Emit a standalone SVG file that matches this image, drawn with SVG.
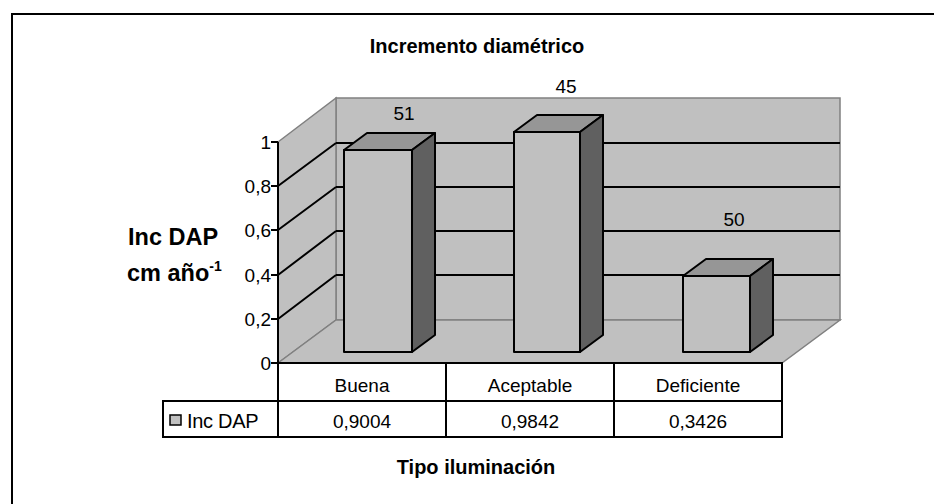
<svg xmlns="http://www.w3.org/2000/svg" width="934" height="504" viewBox="0 0 934 504">
<style>
text{font-family:"Liberation Sans",Arial,sans-serif;fill:#000}
.b{font-weight:bold;font-size:20px}
.yt{font-weight:bold;font-size:23.5px}
.t{font-size:19px}
.wall{fill:#c0c0c0;stroke:#808080;stroke-width:1.5}
.grid{stroke:#000;stroke-width:2;fill:none}
.front{fill:#c0c0c0;stroke:#000;stroke-width:2;stroke-linejoin:round}
.top{fill:#969696;stroke:#000;stroke-width:2;stroke-linejoin:round}
.side{fill:#606060;stroke:#000;stroke-width:2;stroke-linejoin:round}
.tbl{stroke:#000;stroke-width:2;fill:none}
</style>
<rect width="934" height="504" fill="#fff"/>
<path d="M12,504 V14 H934" fill="none" stroke="#000" stroke-width="2"/>
<text class="b" x="477" y="53" text-anchor="middle">Incremento diamétrico</text>
<g id="walls">
<polygon class="wall" points="336,98 840,98 840,320 336,320"/>
<polygon class="wall" points="278,142 336,98 336,320 278,363"/>
<polygon class="wall" points="278,363 336,320 840,320 782,363"/>
</g>
<g id="gridlines">
<path class="grid" d="M336,143 H840 M336,187 H840 M336,231 H840 M336,275 H840"/>
<path class="grid" d="M278,186 L336,143 M278,230 L336,187 M278,275 L336,231 M278,319 L336,275"/>
<path class="grid" d="M278,142 V363 M271,142 H278 M271,186 H278 M271,230 H278 M271,275 H278 M271,319 H278 M271,363 H278"/>
</g>
<g id="ticks" class="t" text-anchor="end">
<text x="271" y="149">1</text>
<text x="271" y="193">0,8</text>
<text x="271" y="237">0,6</text>
<text x="271" y="282">0,4</text>
<text x="271" y="326">0,2</text>
<text x="271" y="370">0</text>
</g>
<g id="bar-buena">
<rect class="front" x="344" y="150" width="68" height="202"/>
<polygon class="top" points="344,150 367,133 435,133 412,150"/>
<polygon class="side" points="412,150 435,133 435,335 412,352"/>
<text class="t" x="404" y="120" text-anchor="middle">51</text>
</g>
<g id="bar-aceptable">
<rect class="front" x="514" y="132" width="66" height="220"/>
<polygon class="top" points="514,132 537,115 603,115 580,132"/>
<polygon class="side" points="580,132 603,115 603,335 580,352"/>
<text class="t" x="566" y="93" text-anchor="middle">45</text>
</g>
<g id="bar-deficiente">
<rect class="front" x="683" y="276" width="67" height="76"/>
<polygon class="top" points="683,276 706,259 773,259 750,276"/>
<polygon class="side" points="750,276 773,259 773,335 750,352"/>
<text class="t" x="734" y="226" text-anchor="middle">50</text>
</g>
<g id="ytitle" class="yt">
<text x="128" y="245">Inc DAP</text>
<text x="127" y="281">cm año<tspan font-size="14" dy="-10">-1</tspan></text>
</g>
<g id="table">
<path class="tbl" d="M278,363 H782 V437 H163 V401 H782 M278,363 V437 M446,363 V437 M614,363 V437"/>
<g class="t" text-anchor="middle">
<text x="362" y="392">Buena</text>
<text x="530" y="392">Aceptable</text>
<text x="698" y="392">Deficiente</text>
<text x="362" y="428">0,9004</text>
<text x="530" y="428">0,9842</text>
<text x="698" y="428">0,3426</text>
</g>
<rect x="170" y="415" width="11" height="10" fill="#c0c0c0" stroke="#000" stroke-width="1.5"/>
<text x="187" y="428" font-size="20" letter-spacing="-0.3">Inc DAP</text>
</g>
<text class="b" x="476" y="474" text-anchor="middle">Tipo iluminación</text>
</svg>
